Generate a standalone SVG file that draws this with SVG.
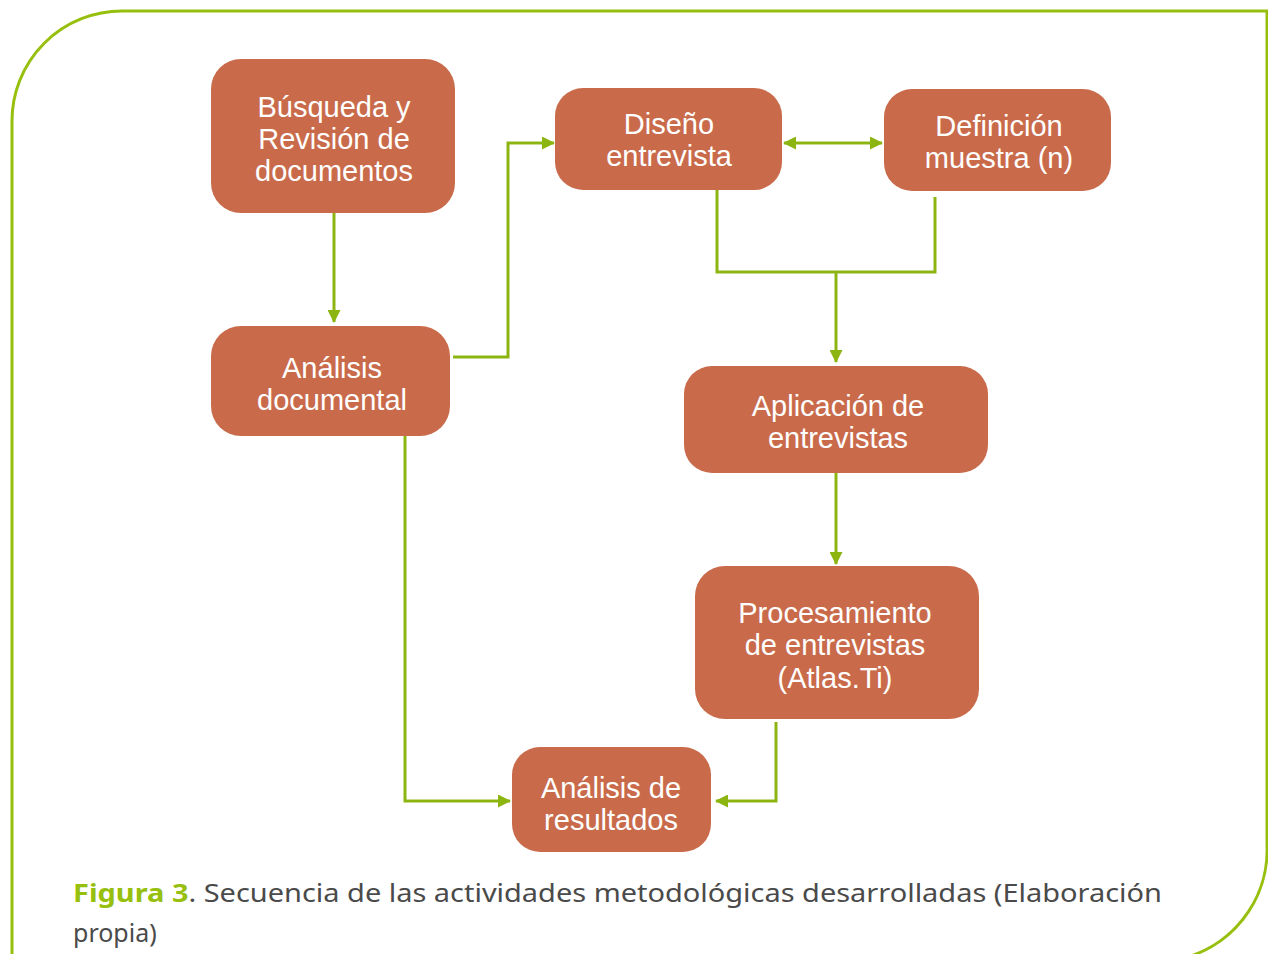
<svg xmlns="http://www.w3.org/2000/svg" width="1268" height="954" viewBox="0 0 1268 954">
<style>
.box{fill:#C96B4B}
.lbl{font-family:"Liberation Sans",Arial,sans-serif;font-size:29px;fill:#fff;text-anchor:middle}
.con{fill:none;stroke:#8DB512;stroke-width:3}
.cap{font-family:"Noto Sans","Open Sans",sans-serif;font-size:25px;fill:#4a4a4a}
</style>
<defs>
<marker id="ah" viewBox="0 0 13 13" refX="12" refY="6.5" markerWidth="13" markerHeight="13" markerUnits="userSpaceOnUse" orient="auto-start-reverse">
<path d="M0,0 L13,6.5 L0,13 Z" fill="#8DB512"/>
</marker>
</defs>
<rect width="1268" height="954" fill="#fff"/>
<path d="M12,954 L12,121 A110,110 0 0 1 122,11 L1268,11" fill="none" stroke="#97BF0D" stroke-width="3"/>
<path d="M1267,11 L1267,845 A112,112 0 0 1 1175,960" fill="none" stroke="#97BF0D" stroke-width="3"/>
<g id="connectors">
<path class="con" d="M334,213 V322" marker-end="url(#ah)"/>
<path class="con" d="M453,357 H508 V143 H554" marker-end="url(#ah)"/>
<path class="con" d="M784,143 H882" marker-start="url(#ah)" marker-end="url(#ah)"/>
<path class="con" d="M717,190 V272 H935 V197"/>
<path class="con" d="M836,272 V362" marker-end="url(#ah)"/>
<path class="con" d="M836,473 V564" marker-end="url(#ah)"/>
<path class="con" d="M405,436 V801 H510" marker-end="url(#ah)"/>
<path class="con" d="M776,722 V801 H716" marker-end="url(#ah)"/>
</g>
<g id="n1"><rect class="box" x="211" y="59" width="244" height="154" rx="30"/>
<text class="lbl"><tspan x="334" y="117">Búsqueda y</tspan><tspan x="334" y="149">Revisión de</tspan><tspan x="334" y="181">documentos</tspan></text></g>
<g id="n2"><rect class="box" x="211" y="326" width="239" height="110" rx="30"/>
<text class="lbl"><tspan x="332" y="378">Análisis</tspan><tspan x="332" y="410">documental</tspan></text></g>
<g id="n3"><rect class="box" x="555" y="88" width="227" height="102" rx="28"/>
<text class="lbl"><tspan x="669" y="134">Diseño</tspan><tspan x="669" y="166">entrevista</tspan></text></g>
<g id="n4"><rect class="box" x="884" y="89" width="227" height="102" rx="28"/>
<text class="lbl"><tspan x="999" y="136">Definición</tspan><tspan x="999" y="168">muestra (n)</tspan></text></g>
<g id="n5"><rect class="box" x="684" y="366" width="304" height="107" rx="28"/>
<text class="lbl"><tspan x="838" y="416">Aplicación de</tspan><tspan x="838" y="448">entrevistas</tspan></text></g>
<g id="n6"><rect class="box" x="695" y="566" width="284" height="153" rx="30"/>
<text class="lbl"><tspan x="835" y="623">Procesamiento</tspan><tspan x="835" y="655">de entrevistas</tspan><tspan x="835" y="688">(Atlas.Ti)</tspan></text></g>
<g id="n7"><rect class="box" x="512" y="747" width="199" height="105" rx="28"/>
<text class="lbl"><tspan x="611" y="798">Análisis de</tspan><tspan x="611" y="830">resultados</tspan></text></g>
<g id="caption">
<text class="cap" x="73" y="902" textLength="1089" lengthAdjust="spacingAndGlyphs"><tspan font-weight="bold" fill="#97BF0D">Figura 3</tspan>. Secuencia de las actividades metodológicas desarrolladas (Elaboración</text>
<text class="cap" x="73" y="942">propia)</text>
</g>
</svg>
